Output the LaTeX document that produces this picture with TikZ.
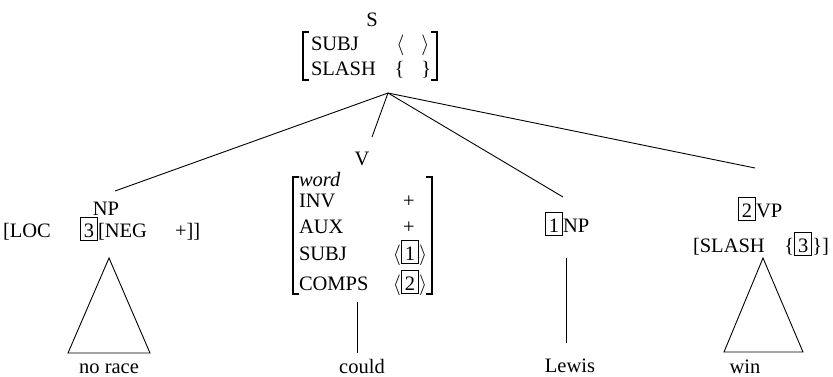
\documentclass[tikz,border=0pt]{standalone}
\usepackage{fontspec}
\setmainfont{Liberation Serif}
% boxed structure-sharing tag
\newcommand{\tagbox}[1]{{\setlength{\fboxsep}{1.5pt}\setlength{\fboxrule}{0.9pt}\fbox{\rule[-1.5pt]{0pt}{19pt}\hspace{1.5pt}#1\hspace{1.5pt}}}}
\begin{document}
\begin{tikzpicture}[x=1pt,y=-1pt,
  every node/.style={inner sep=0pt, outer sep=0pt, font=\fontsize{20.5}{24}\selectfont},
  lbl/.style={anchor=base},
  lft/.style={anchor=base west},
  rgt/.style={anchor=base east},
  branch/.style={line width=0.9pt},
  avmbracket/.style={line width=1.1pt},
  subtree/.style={line width=0.9pt, line join=miter}]
\useasboundingbox (0,0) rectangle (833,376);
\fill[white] (0,0) rectangle (833,376);

% ---- mother: S ----
\node (s) [lbl] at (372,26) {S};
\node (s-subj) [lft] at (311,50) {SUBJ};
\node (s-slash) [lft] at (311,75) {SLASH};
\node (s-subj-v) [lbl] at (413,50) {$\langle\hspace{17pt}\rangle$};
\node (s-slash-v) [lbl] at (413,75) {\{\hspace{17pt}\}};
\draw[avmbracket] (309,32) -- (303,32) -- (303,80) -- (309,80);
\draw[avmbracket] (431,32) -- (437,32) -- (437,80) -- (431,80);
\coordinate (root) at (388,93);

% ---- daughter 1: NP ----
\node (np) [lbl] at (106,215) {NP};
\coordinate (np-top) at (115,191);
\node (np-loc) [lft] at (3,237) {[LOC};
\node (np-neg) [lft] at (80,237) {\tagbox{3}[NEG};
\node (np-plus) [lft] at (175,237) {+]]};
\coordinate (np-tri) at (109,258);
\draw[subtree] (np-tri) -- (68,353) -- (150,353) -- cycle;
\node (norace) [lbl] at (109,373) {no race};

% ---- daughter 2: V ----
\node (v) [lbl] at (362,165) {V};
\coordinate (v-top) at (372,137);
\node (v-word) [lft] at (299,186) {\itshape word};
\node (v-inv) [lft] at (299,207) {INV};
\node (v-aux) [lft] at (299,233) {AUX};
\node (v-subj) [lft] at (299,260) {SUBJ};
\node (v-comps) [lft] at (299,290) {COMPS};
\node (v-inv-v) [lbl] at (409,207) {+};
\node (v-aux-v) [lbl] at (409,233) {+};
\node (v-subj-v) [lbl] at (410,260) {$\langle$\tagbox{1}$\rangle$};
\node (v-comps-v) [lbl] at (410,290) {$\langle$\tagbox{2}$\rangle$};
\draw[avmbracket] (299,177) -- (293,177) -- (293,294) -- (299,294);
\draw[avmbracket] (426,177) -- (432,177) -- (432,294) -- (426,294);
\coordinate (v-foot) at (357,302);
\node (could) [lbl] at (362,373) {could};
\draw[branch, shorten >=6pt] (v-foot) -- (v-foot |- could.north);

% ---- daughter 3: NP ----
\node (np1) [lft] at (545,232) {\tagbox{1}NP};
\coordinate (np1-top) at (563,197);
\coordinate (np1-foot) at (566,258);
\node (lewis) [lbl] at (570,372) {Lewis};
\draw[branch, shorten >=15pt] (np1-foot) -- (np1-foot |- lewis.north);

% ---- daughter 4: VP ----
\node (vp) [lft] at (738,217) {\tagbox{2}VP};
\coordinate (vp-top) at (755,168);
\node (vp-slash) [lft] at (693,252) {[SLASH};
\node (vp-slash-v) [rgt] at (829,252) {\{\tagbox{3}\}]};
\coordinate (vp-tri) at (763,258);
\draw[subtree] (vp-tri) -- (724,352) -- (803,352) -- cycle;
\node (win) [lbl] at (745,373) {win};

% ---- branches from the mother ----
\draw[branch] (root) -- (np-top);
\draw[branch] (root) -- (v-top);
\draw[branch] (root) -- (np1-top);
\draw[branch] (root) -- (vp-top);
\end{tikzpicture}
\end{document}
